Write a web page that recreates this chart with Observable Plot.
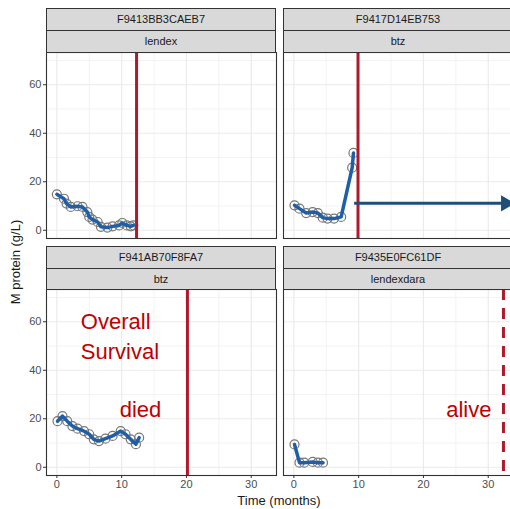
<!DOCTYPE html>
<html><head><meta charset="utf-8">
<script src="https://cdn.jsdelivr.net/npm/d3@7"></script>
<script src="https://cdn.jsdelivr.net/npm/@observablehq/plot@0.6"></script>
<style>
body{margin:0;background:#fff;font-family:"Liberation Sans",Arial,sans-serif;}
#wrap{position:relative;width:510px;height:509px;overflow:hidden;background:#fff;}
.strip{position:absolute;background:#d9d9d9;border:1px solid #333;box-sizing:border-box;font-size:11px;color:#1a1a1a;text-align:center;}
.abs{position:absolute;}
</style></head><body>
<div id="wrap"></div>
<script>
// ---- data ----
const patients = ["F9413BB3CAEB7", "F9417D14EB753", "F941AB70F8FA7", "F9435E0FC61DF"];
const treatments = ["lendex", "btz", "btz", "lendexdara"];
const osMonths = [12.3, 9.9, 20.15, 32.35];
const osStatus = ["died", "died", "died", "alive"];
const timesP1 = [0, 1.1, 1.5, 2.15, 3.2, 3.95, 4.7, 5.0, 5.5, 6.3, 6.8, 7.8, 8.6, 9.6, 10.1, 10.8, 11.4, 11.8];
const mprotP1 = [14.8, 13.0, 11.0, 9.6, 9.9, 9.6, 7.5, 5.5, 4.4, 3.4, 1.4, 1.1, 1.6, 2.0, 3.0, 2.0, 1.6, 2.0];
const timesP2 = [0.1, 0.87, 1.9, 2.9, 3.7, 4.46, 5.2, 6.2, 7.3, 9.0, 9.2];
const mprotP2 = [10.3, 8.9, 7.1, 7.5, 7.1, 5.2, 4.8, 4.8, 5.5, 25.8, 31.9];
const timesP3 = [0.1, 0.87, 1.6, 2.4, 3.2, 4.2, 5.0, 5.7, 6.5, 7.5, 8.6, 9.85, 10.6, 11.4, 12.2, 12.7];
const mprotP3 = [19.0, 21.1, 19.0, 17.0, 15.9, 14.9, 13.6, 11.5, 10.8, 11.8, 12.9, 14.9, 13.6, 11.5, 9.5, 12.2];
const timesP4 = [0.1, 0.87, 1.6, 2.9, 3.7, 4.5];
const mprotP4 = [9.4, 1.9, 1.9, 2.2, 1.9, 1.9];
const xTicks = [0, 10, 20, 30];
const yTicks = [0, 20, 40, 60];
const xMinor = [5, 15, 25];
const yMinor = [10, 30, 50, 70];
// annotation (added on top of the chart)
const arrowSeg = {x1: 9.3, x2: 32.2, y: 11.1};
const arrowHeadX = 32.7;
const osLabel = ["Overall", "Survival"];
const osLabelX = 3.7, osLabelY = [60, 47.7];
const statusLabelY = 23.8;
const statusLabelX = [12.9, 27.0];

const series = [[timesP1, mprotP1], [timesP2, mprotP2], [timesP3, mprotP3], [timesP4, mprotP4]];
const xDomain = [-1.6, 33.9];
const yDomain = [-3.4, 73.3];
const blue = "#1f5fa8", red = "#b2182b", annot = "#c00000", arrowCol = "#1f4e79";

const wrap = document.getElementById("wrap");

function panel(i) {
  const col = i % 2, row = Math.floor(i / 2);
  const pts = series[i][0].map((t, k) => ({t, m: series[i][1][k]}));
  const left = col === 0;
  const bottom = row === 1;
  const marks = [
    Plot.gridX(xMinor, {stroke: "#ebebeb", strokeOpacity: 1, strokeWidth: 0.6}),
    Plot.gridY(yMinor, {stroke: "#ebebeb", strokeOpacity: 1, strokeWidth: 0.6}),
    Plot.gridX(xTicks, {stroke: "#ebebeb", strokeOpacity: 1, strokeWidth: 1.2}),
    Plot.gridY(yTicks, {stroke: "#ebebeb", strokeOpacity: 1, strokeWidth: 1.2}),
    Plot.dot(pts, {x: "t", y: "m", r: 4.5, stroke: "#777", strokeWidth: 1.2, fill: "none"}),
    Plot.line(pts, {x: "t", y: "m", stroke: blue, strokeWidth: 3.5}),
    Plot.ruleX([osMonths[i]], {stroke: red, strokeWidth: 3, strokeDasharray: osStatus[i] === "alive" ? "11,8" : null}),
    Plot.frame({stroke: "#333", strokeWidth: 1.1})
  ];
  if (left) marks.push(Plot.axisY(yTicks, {tickSize: 3, tickPadding: 2, fontSize: 11, stroke: "#333", fill: "#4d4d4d", label: null}));
  if (bottom) marks.push(Plot.axisX(xTicks, {tickSize: 3, tickPadding: 2, fontSize: 11, stroke: "#333", fill: "#4d4d4d", label: null}));
  if (i === 1) {
    marks.push(Plot.link([arrowSeg], {x1: "x1", x2: "x2", y1: "y", y2: "y", stroke: arrowCol, strokeWidth: 3}));
    marks.push(Plot.dot([arrowSeg], {x: () => arrowHeadX, y: "y", symbol: "triangle", rotate: 90, r: 6, fill: arrowCol, stroke: "none"}));
  }
  if (i === 2) {
    marks.push(Plot.text(osLabel, {x: () => osLabelX, y: (d, k) => osLabelY[k], text: d => d, textAnchor: "start", fill: annot, fontSize: 22}));
    marks.push(Plot.text([osStatus[2]], {x: () => statusLabelX[0], y: () => statusLabelY, text: d => d, fill: annot, fontSize: 22}));
  }
  if (i === 3) {
    marks.push(Plot.text([osStatus[3]], {x: () => statusLabelX[1], y: () => statusLabelY, text: d => d, fill: annot, fontSize: 22}));
  }
  const mL = left ? 46 : 1;
  const svg = Plot.plot({
    width: mL + 230 + 2,
    height: 1 + 186 + (bottom ? 22 : 1),
    marginLeft: mL, marginRight: 2, marginTop: 1, marginBottom: bottom ? 22 : 1,
    x: {domain: xDomain, axis: null},
    y: {domain: yDomain, axis: null},
    style: {fontFamily: "Liberation Sans, Arial, sans-serif", background: "transparent", overflow: "visible"},
    marks
  });
  const panelTop = row === 0 ? 52 : 289;
  const panelLeft = col === 0 ? 46 : 283;
  svg.style.position = "absolute";
  svg.style.left = (panelLeft - mL) + "px";
  svg.style.top = (panelTop - 1) + "px";
  wrap.appendChild(svg);
  // strips
  const s1Top = row === 0 ? 8 : 246;
  const s2Top = row === 0 ? 30 : 268;
  const s2H = row === 0 ? 23 : 22;
  const mk = (top, h, txt) => {
    const d = document.createElement("div");
    d.className = "strip";
    d.style.left = panelLeft + "px"; d.style.top = top + "px";
    d.style.width = "230px"; d.style.height = h + "px"; d.style.lineHeight = (h - 2) + "px";
    d.textContent = txt;
    wrap.appendChild(d);
  };
  mk(s1Top, 23, patients[i]);
  mk(s2Top, s2H, treatments[i]);
}
[0, 1, 2, 3].forEach(panel);

const yl = document.createElement("div");
yl.className = "abs";
yl.textContent = "M protein (g/L)";
yl.style.cssText += "left:15px;top:262px;font-size:13px;color:#1a1a1a;transform:translate(-50%,-50%) rotate(-90deg);white-space:nowrap;";
wrap.appendChild(yl);
const xl = document.createElement("div");
xl.className = "abs";
xl.textContent = "Time (months)";
xl.style.cssText += "left:279px;top:500px;font-size:13px;color:#1a1a1a;transform:translate(-50%,-50%);white-space:nowrap;";
wrap.appendChild(xl);
</script>
</body></html>
